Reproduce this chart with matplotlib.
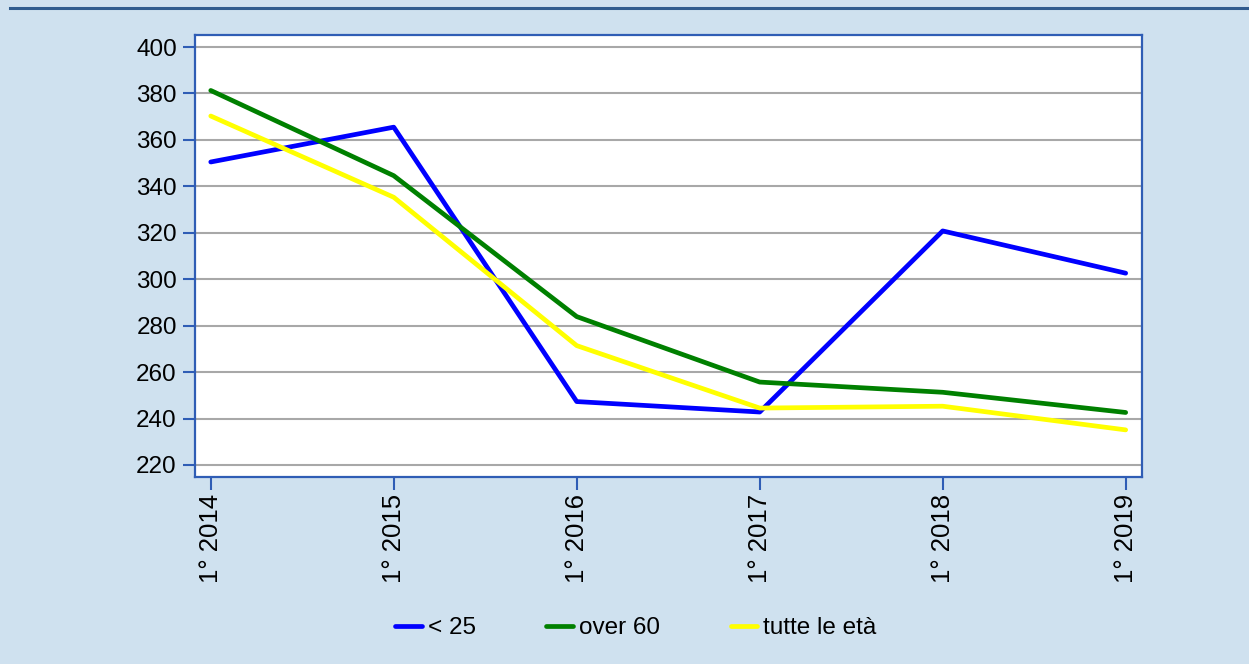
import matplotlib
matplotlib.use("Agg")
import matplotlib.pyplot as plt
from matplotlib.lines import Line2D

plt.rcParams['font.family'] = ['Liberation Sans', 'DejaVu Sans']

# Data
periods = ['1° 2014', '1° 2015', '1° 2016', '1° 2017', '1° 2018', '1° 2019']
under_25 = [350.5, 365.5, 247.3, 242.8, 320.8, 302.6]
over_60 = [381.3, 344.6, 283.9, 255.7, 251.3, 242.6]
all_ages = [370.3, 335.3, 271.4, 244.5, 245.3, 235.1]

series_labels = ['< 25', 'over 60', 'tutte le età']
series_colors = ['#0000FF', '#008000', '#FFFF00']

BG = '#CFE1EF'
SPINE = '#2F5DB5'

fig = plt.figure(figsize=(12.49, 6.64), dpi=100, facecolor=BG)
ax = fig.add_axes([0.156, 0.2816, 0.758, 0.6657])
ax.set_facecolor('white')

x = range(len(periods))
for vals, lab, col in zip([under_25, over_60, all_ages], series_labels, series_colors):
    ax.plot(x, vals, color=col, lw=3.4, label=lab, solid_capstyle='round', zorder=3)

ax.set_xlim(-0.087, len(periods) - 1 + 0.087)
ax.set_ylim(214.8, 405.2)
ax.set_yticks(range(220, 401, 20))
ax.set_xticks(list(x))
ax.set_xticklabels(periods, rotation=90, fontsize=18.5)
ax.tick_params(axis='y', labelsize=17.5, pad=4)
ax.tick_params(axis='x', pad=3)
ax.tick_params(direction='out', length=9, width=1.5, color=SPINE)

ax.grid(axis='y', color='#A8A8A8', lw=1.5, zorder=1)
ax.set_axisbelow(True)
for s in ax.spines.values():
    s.set_color(SPINE)
    s.set_linewidth(1.6)

fig.legend(loc='center', bbox_to_anchor=(0.509, 0.054), ncol=3, frameon=False,
           fontsize=17.5, handlelength=1.1, handletextpad=0.25, columnspacing=2.9)

# dark band at the top
fig.add_artist(Line2D([0.008, 1.0], [0.988, 0.988], transform=fig.transFigure,
                      color='#2F5B8E', lw=2.2))

fig.savefig('out.png', dpi=100, facecolor=BG)
